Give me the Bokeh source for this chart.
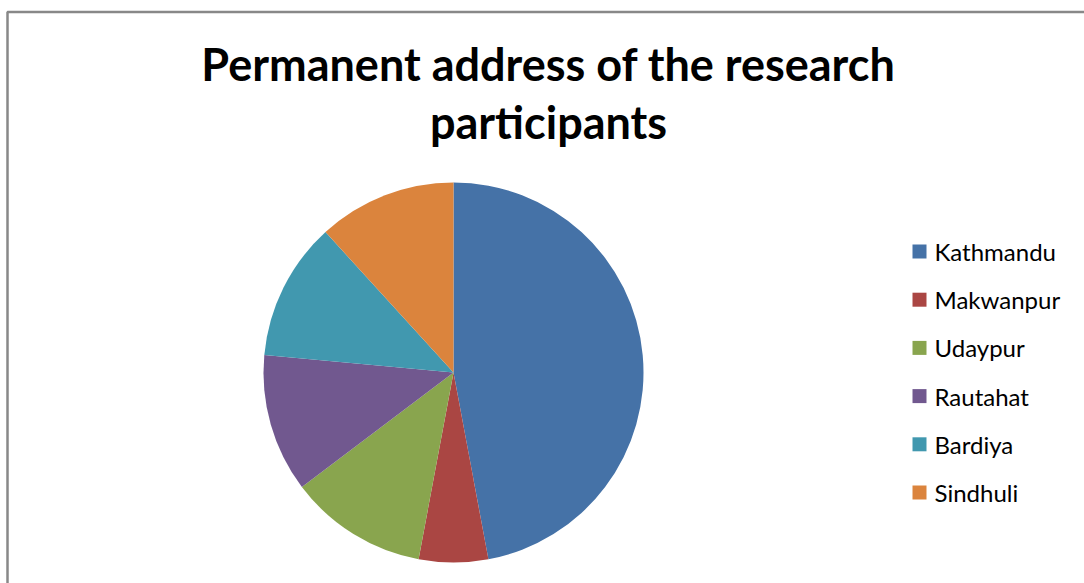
import math
from bokeh.plotting import figure
from bokeh.models import Range1d, ColumnDataSource
from bokeh.core.properties import value
from bokeh.embed import file_html
from bokeh.resources import INLINE

title_lines = ["Permanent address of the research", "participants"]
categories = ["Kathmandu", "Makwanpur", "Udaypur", "Rautahat", "Bardiya", "Sindhuli"]
counts = [8, 1, 2, 2, 2, 2]
colors = ["#4572A7", "#AA4643", "#89A54E", "#71588F", "#4198AF", "#DB843D"]

W, H = 1084, 583
p = figure(width=W, height=H, output_backend="svg", toolbar_location=None,
           x_range=Range1d(0, W), y_range=Range1d(0, H), min_border=0)
p.axis.visible = False
p.grid.visible = False
p.outline_line_color = None
p.background_fill_color = "white"
p.border_fill_color = "white"

def Y(y):
    return H - y

# frame
p.line([7, 7, W], [Y(H), Y(11.5), Y(11.5)], line_color="#888888", line_width=2.5)

# pie
total = sum(counts)
starts, ends = [], []
a = math.pi / 2
for c in counts:
    starts.append(a - 2 * math.pi * c / total)
    ends.append(a)
    a -= 2 * math.pi * c / total
src = ColumnDataSource(dict(cat=categories, start=starts, end=ends, color=colors))
p.wedge(x=453, y=Y(372), radius=190, radius_units="screen", start_angle="start",
        end_angle="end", fill_color="color", line_color=None, source=src)

# title
p.text(x=[548, 548], y=[Y(63), Y(121)], text=title_lines, text_font=value("Lato"),
       text_font_style="bold", text_font_size="45px", text_align="center",
       text_baseline="middle", text_color="black")

# legend
ly = [Y(251 + i * 48.2) for i in range(len(categories))]
p.rect(x=[919] * len(categories), y=ly, width=14, height=14, width_units="screen",
       height_units="screen", fill_color=colors, line_color=None)
p.text(x=[934] * len(categories), y=ly, text=categories, text_font=value("Lato"),
       text_font_size="24px", text_baseline="middle", text_color="black")

open("out.html", "w").write(file_html(p, INLINE))
